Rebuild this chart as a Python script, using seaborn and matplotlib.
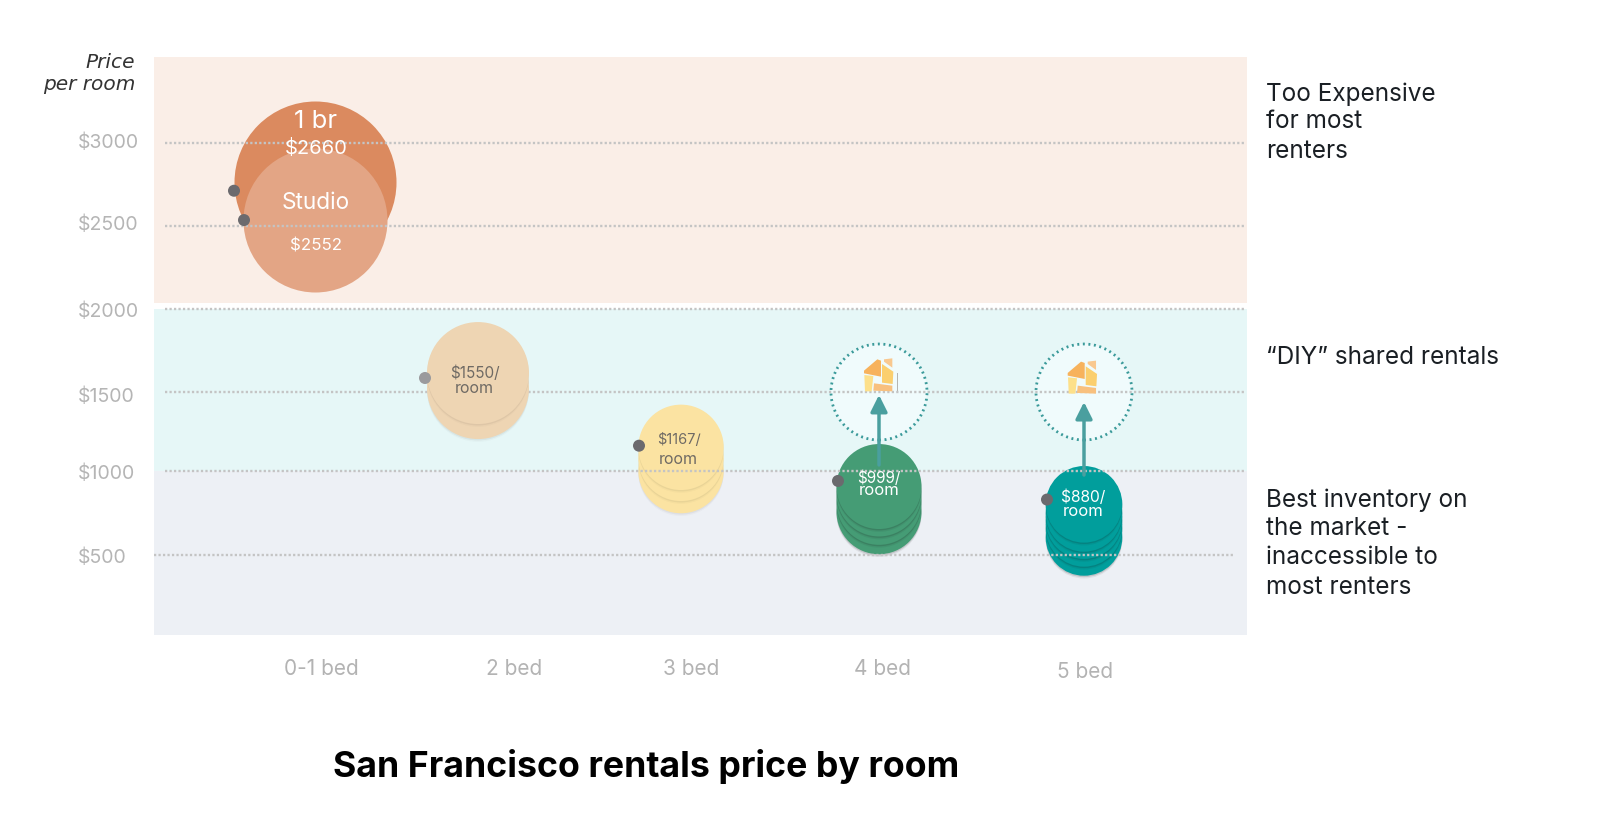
import pandas as pd
import matplotlib
matplotlib.use("Agg")
import matplotlib.pyplot as plt
import matplotlib.patheffects as pe
from matplotlib.patches import Polygon
from matplotlib.transforms import Affine2D, ScaledTranslation
import seaborn as sns

# Data
bed_labels = ["0-1 bed", "2 bed", "3 bed", "4 bed", "5 bed"]
price_ticks = [500, 1000, 1500, 2000, 2500, 3000]
price_labels = ["$500", "$1000", "$1500", "$2000", "$2500", "$3000"]
guide_prices = [500, 1010, 1492, 1996, 2500, 3000]

studio_1br_groups = ["1 br", "Studio"]
studio_1br_centers = [2767, 2533]
two_bed_centers = [1514, 1605]
three_bed_centers = [1013, 1087, 1154]
four_bed_centers = [763, 820, 871, 916]
five_bed_centers = [607, 662, 709, 753, 808]

marker_groups = ["1 br", "Studio", "2 bed", "3 bed", "4 bed", "5 bed"]
marker_prices = [2712, 2534, 1575, 1164, 950, 837]
diy_prices = [1490, 1490]

# Layout, x axis runs in pixels of the figure
W, H = 1600, 825
bed_x = {"1 br": 315, "Studio": 315, "2 bed": 478, "3 bed": 681, "4 bed": 879, "5 bed": 1084}
tick_x = [321, 514.5, 691, 883, 1085.5]
marker_x = {"1 br": 234, "Studio": 244, "2 bed": 425, "3 bed": 639, "4 bed": 838, "5 bed": 1047}
radius = {"1 br": 81, "Studio": 72, "2 bed": 51, "3 bed": 42.7, "4 bed": 42.5, "5 bed": 38.3}
colors = {"1 br": "#db8a5f", "Studio": "#e3a585", "2 bed": "#eed5b3",
          "3 bed": "#fbe3a2", "4 bed": "#459c75", "5 bed": "#019e9c"}
shadow = {"2 bed": 0.05, "3 bed": 0.05, "4 bed": 0.14, "5 bed": 0.14}

POP = ["Inter", "DejaVu Sans"]
MON = ["Inter", "DejaVu Sans"]

sns.set_theme(style="white")
plt.rcParams["font.family"] = POP

fig = plt.figure(figsize=(W / 100, H / 100), dpi=100)
ax = fig.add_axes([154 / W, 1 - 634.6 / H, 1093 / W, 577.6 / H])
ax.set_xlim(154, 1247)
ax.set_ylim(17, 3524)
sns.despine(ax=ax, left=True, bottom=True)

# Background bands
ax.axhspan(2032, 3524, color="#faeee7", lw=0, zorder=0)
ax.axhspan(1010, 1996, color="#e6f7f7", lw=0, zorder=0)
ax.axhspan(17, 1010, color="#edf0f5", lw=0, zorder=0)


def size_of(group):
    return (2 * radius[group] * 0.72) ** 2


# Bubbles, bottom of each stack first, one call per disc so the shadows land on the disc below
stacks = [("1 br", [studio_1br_centers[0]]), ("Studio", [studio_1br_centers[1]]),
          ("2 bed", two_bed_centers), ("3 bed", three_bed_centers),
          ("4 bed", four_bed_centers), ("5 bed", five_bed_centers)]
for group, centers in stacks:
    for c in centers:
        sub = pd.DataFrame({"x": [bed_x[group]], "price": [c]})
        sns.scatterplot(data=sub, x="x", y="price", s=size_of(group), color=colors[group],
                        linewidth=0, ax=ax, zorder=3, legend=False)
        if group not in studio_1br_groups:
            a = shadow[group]
            ax.collections[-1].set_path_effects([
                pe.SimplePatchShadow(offset=(0, -2.0), shadow_rgbFace="k", alpha=a / 2),
                pe.SimplePatchShadow(offset=(0, -1.0), shadow_rgbFace="k", alpha=a),
                pe.Normal()])

# Dotted circles for the DIY price
diy = pd.DataFrame({"x": [879, 1084], "price": diy_prices})
sns.scatterplot(data=diy, x="x", y="price", s=(2 * 48 * 0.72) ** 2, color="#f0fbfc",
                edgecolor="#3a9a9a", linewidth=2, linestyle=(0, (0.7, 1.3)), ax=ax, zorder=1.5, legend=False)

# Dotted price lines
grid_style = dict(color="#c4c4c4", lw=1.7, linestyle=(0, (0.95, 0.95)))
for p in guide_prices:
    x0, x1 = (154, 1233) if p == 500 else (165, 1245)
    z = 2 if p == 1492 else 4
    ax.plot([x0, x1], [p, p], zorder=z, **grid_style)

# Grey anchor dots
dots = pd.DataFrame({"x": [marker_x[g] for g in marker_groups], "price": marker_prices, "g": marker_groups})
dot_colors = {g: "#6b6a6e" for g in marker_groups}
dot_colors["2 bed"] = "#9a9a9d"
sns.scatterplot(data=dots, x="x", y="price", hue="g", palette=dot_colors, s=(12 * 0.72) ** 2,
                linewidth=0, ax=ax, zorder=6, legend=False)

# Arrows from the stacks up to the DIY circles
arrow_style = dict(arrowstyle="-|>,head_length=1.0,head_width=0.5", color="#4a9f9f", lw=2.5,
                   shrinkA=0, shrinkB=0, mutation_scale=10)
for x, y0, y1 in [(879, 1047, 1472), (1084, 986, 1429)]:
    ax.annotate("", xy=(x, y1), xytext=(x, y0), zorder=5, arrowprops=arrow_style)

# House icons
icon_parts = [([(252, 152), (292, 118), (303, 122), (303, 170), (252, 160)], "#f7b25c"),
              ([(312, 118), (337, 115), (337, 143), (312, 125)], "#f9c88f"),
              ([(306, 132), (340, 155), (338, 192), (306, 188)], "#fbcf6e"),
              ([(253, 165), (280, 168), (275, 214), (255, 214)], "#fde08a"),
              ([(282, 190), (337, 197), (337, 214), (280, 212)], "#f8c07e"),
              ([(351, 160), (353, 160), (353, 212), (351, 212)], "#b5b5b0")]
for ox, oy in [(780, 320), (983.7, 322.3)]:
    tr = Affine2D().scale(1 / 3, -1 / 3).translate(ox, H - oy)
    for pts, c in icon_parts:
        fig.add_artist(Polygon(pts, closed=True, facecolor=c, edgecolor="none", transform=tr, zorder=5))

# Axis ticks, the y labels start at a common left edge
ax.set_xticks(tick_x, bed_labels)
ax.set_yticks(price_ticks, price_labels)
ax.set_xlabel("")
ax.set_ylabel("")
ax.tick_params(axis="x", length=0, pad=17.5, labelsize=15, labelcolor="#b3b3b3")
ax.tick_params(axis="y", length=0, pad=54.5, labelsize=14, labelcolor="#b5b5b5")
lab5 = ax.get_xticklabels()[4]
lab5.set_transform(lab5.get_transform() + ScaledTranslation(0, -3 / 100, fig.dpi_scale_trans))
label_nudge = [-1, 0.7, -4.3, -2, 3, 2.3]
for lab, dy in zip(ax.get_yticklabels(), label_nudge):
    lab.set_ha("left")
    lab.set_transform(lab.get_transform() + ScaledTranslation(0, dy / 100, fig.dpi_scale_trans))


def px_text(x, y, s, size, color="white", ha="center", **kw):
    fig.text(x / W, 1 - (y + 2) / H, s, fontsize=size, color=color, ha=ha, va="center", zorder=10, **kw)


# Bubble labels
px_text(316, 120, "1 br", 18.5)
px_text(316, 146, "$2660", 14.5)
px_text(316, 201, "Studio", 16.3)
px_text(316, 243.5, "$2552", 12.2)
px_text(474.7, 371, "$1550/", 11, "#6f6a64")
px_text(474.7, 387, "room", 11.5, "#6f6a64")
px_text(678.7, 438, "$1167/", 10.5, "#6f6a64")
px_text(678.7, 457.5, "room", 11.5, "#6f6a64")
px_text(879, 476, "$999/", 11)
px_text(879, 489, "room", 12)
px_text(1082.7, 495.7, "$880/", 11.2)
px_text(1082.7, 510, "room", 12)

# Notes on the right
for y, s in [(92, "Too Expensive"), (120, "for most"), (149, "renters"), (355, "“DIY” shared rentals"),
             (498, "Best inventory on"), (526.5, "the market -"), (556, "inaccessible to"), (585.5, "most renters")]:
    px_text(1266, y, s, 17.5, "#1a1f24", ha="left", family=MON)

# Axis caption and title
px_text(135, 60.7, "Price", 14.5, "#333333", ha="right", style="italic", family=["DejaVu Sans"])
px_text(135, 83, "per room", 14.5, "#333333", ha="right", style="italic", family=["DejaVu Sans"])
px_text(646, 764, "San Francisco rentals price by room", 25.7, "black", weight="bold")

fig.savefig("out.png", dpi=100)
